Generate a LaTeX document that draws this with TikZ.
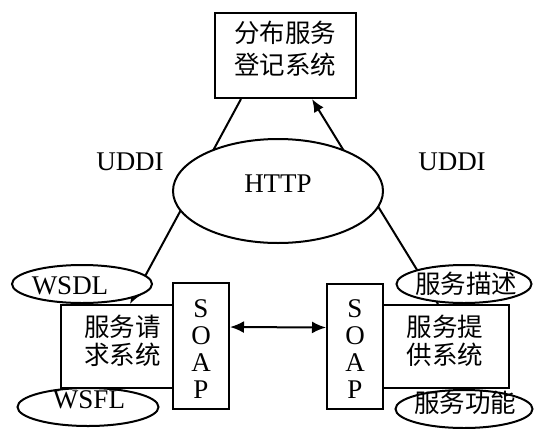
\documentclass[tikz,border=0pt]{standalone}
\usepackage{fontspec}
\setmainfont{Liberation Serif}
\newfontfamily\cjk{Noto Sans CJK SC}
\usetikzlibrary{shapes.geometric,arrows.meta,backgrounds}

\begin{document}
\begin{tikzpicture}[x=1pt,y=-1pt,
  box/.style={draw, line width=2pt, fill=white, inner sep=0pt},
  oval/.style={draw, line width=2pt, fill=white, ellipse, inner sep=0pt},
  txt/.style={inner sep=0pt, align=center, font=\fontsize{27}{28}\selectfont},
  zh/.style={inner sep=0pt, align=center, font=\cjk\fontsize{25.5}{28}\selectfont},
  link/.style={line width=2pt},
  tip/.style={link, -{Latex[length=13pt,width=11pt]}},
  bothtips/.style={link, {Latex[length=14pt,width=12pt]}-{Latex[length=14pt,width=12pt]}}
]
\useasboundingbox (0,0) rectangle (534,428);

% registry at the top
\node[box, minimum width=141pt, minimum height=85pt] (reg) at (285.5,55.5) {};
\node[zh, font=\cjk\fontsize{25.5}{32}\selectfont] (regtext) at (285,49) {分布服务\\登记系统};

% transport protocol in the middle
\node[oval, minimum width=210pt, minimum height=104pt] (http) at (278,191) {};
\node[txt] (httptext) at (278,184) {HTTP};

\node[txt] (uddiL) at (130,162) {UDDI};
\node[txt] (uddiR) at (452,162) {UDDI};

% requester side
\node[box, minimum width=112pt, minimum height=83pt] (req) at (117,346.5) {};
\node[box, minimum width=56pt, minimum height=126pt] (soapL) at (201,346) {};
\node[zh] (reqtext) at (122.5,341) {服务请\\求系统};
\node[txt, font=\fontsize{27}{27}\selectfont] (soapLtext) at (201,349.5) {S\\O\\A\\P};

% provider side
\node[box, minimum width=126pt, minimum height=83pt] (prov) at (446,346.5) {};
\node[box, minimum width=56pt, minimum height=125pt] (soapR) at (355,346.5) {};
\node[zh] (provtext) at (445,341) {服务提\\供系统};
\node[txt, font=\fontsize{27}{27}\selectfont] (soapRtext) at (355,349.5) {S\\O\\A\\P};

% description ovals
\node[oval, minimum width=140pt, minimum height=38pt] (wsdl) at (82,284) {};
\node[txt] (wsdltext) at (70,286) {WSDL};
\node[oval, minimum width=141pt, minimum height=38pt] (wsfl) at (88,407) {};
\node[txt] (wsfltext) at (89,400) {WSFL};
\node[oval, minimum width=135pt, minimum height=38pt] (desc) at (464,284) {};
\node[zh] (desctext) at (466,284) {服务描述};
\node[oval, minimum width=137pt, minimum height=38pt] (func) at (464,409) {};
\node[zh] (functext) at (465,403) {服务功能};

% connectors behind the shapes
\begin{scope}[on background layer]
  \draw[tip] ([xshift=27pt]reg.south west) -- ([xshift=70pt]req.north west);
  \draw[tip] ([xshift=56pt]prov.north west) -- ([xshift=98pt]reg.south west);
\end{scope}
\draw[bothtips] ([yshift=19pt]soapL.east) -- ([yshift=19pt]soapR.west);
\end{tikzpicture}
\end{document}
